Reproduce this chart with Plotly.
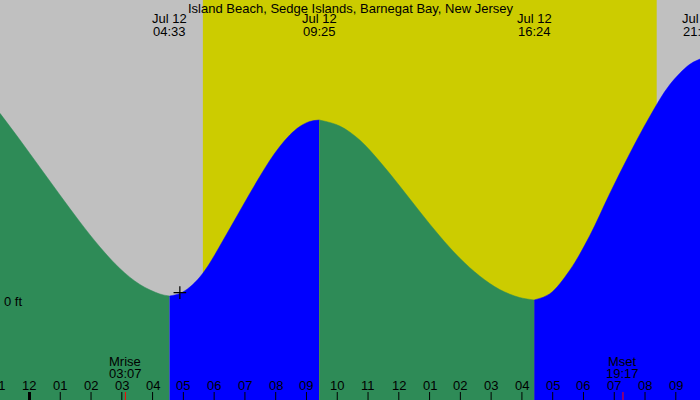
import plotly.graph_objects as go

TITLE = "Island Beach, Sedge Islands, Barnegat Bay, New Jersey"

# Tide curve: hours after Jul 12 00:00, height in ft
tide_hours = [-0.958, -0.308, 0.341, 0.990, 1.640, 2.289, 2.938, 3.588, 4.237, 4.55,
              4.886, 5.211, 5.536, 5.860, 6.185, 6.510, 6.834, 7.159, 7.484, 7.808,
              8.133, 8.458, 8.782, 9.107, 9.417,
              10.081, 10.731, 11.380, 12.029, 12.679, 13.328, 13.977, 14.627, 15.276, 15.925, 16.4,
              16.899, 17.549, 18.198, 18.847, 19.497, 20.146, 20.795, 21.445, 21.786]
tide_ft = [3.128, 2.683, 2.225, 1.767, 1.317, 0.900, 0.542, 0.275, 0.117, 0.083,
           0.125, 0.233, 0.400, 0.633, 0.917, 1.208, 1.500, 1.792, 2.075, 2.342,
           2.575, 2.767, 2.908, 2.992, 3.017,
           2.917, 2.683, 2.325, 1.917, 1.492, 1.083, 0.717, 0.417, 0.192, 0.058, 0.017,
           0.117, 0.508, 1.083, 1.783, 2.450, 3.067, 3.600, 3.942, 4.033]

# Tide events (low / high)
event_times = ["04:33", "09:25", "16:24", "21:47"]
event_date = "Jul 12"

# Sun and moon
sunrise = "05:38"
sunset = "20:23"
moon_labels = ["Mrise", "Mset"]
moon_times = ["03:07", "19:17"]

# Hour ticks
hour_ticks = list(range(-1, 22))
hour_text = ["11", "12", "01", "02", "03", "04", "05", "06", "07", "08", "09", "10",
             "11", "12", "01", "02", "03", "04", "05", "06", "07", "08", "09"]

# Marker
marker_hour = [4.886]
marker_ft = [0.14]

X_RANGE = [-0.958, 21.786]
Y_RANGE = [-1.65, 5.017]

GRAY = "#C0C0C0"
YELLOW = "#CCCC00"
GREEN = "#2E8B57"
BLUE = "#0000FF"
FONT = "Liberation Sans, Arial, sans-serif"
FS = 13


def hrs(s):
    h, m = s.split(":")
    return int(h) + int(m) / 60.0


def px(h):
    return (h - X_RANGE[0]) / (X_RANGE[1] - X_RANGE[0])


# curve extremes (split points between falling / rising segments)
extremes = [4.55, 9.417, 16.4]

fig = go.Figure()

bounds = [X_RANGE[0]] + extremes + [X_RANGE[1]]
for i in range(len(bounds) - 1):
    a, b = bounds[i], bounds[i + 1]
    idx = [j for j, t in enumerate(tide_hours) if a - 1e-9 <= t <= b + 1e-9]
    xs = [tide_hours[j] for j in idx]
    ys = [tide_ft[j] for j in idx]
    color = BLUE if i % 2 == 1 else GREEN
    fig.add_trace(go.Scatter(x=[a, b], y=[Y_RANGE[0], Y_RANGE[0]], mode="lines",
                             line=dict(width=0, color=color), hoverinfo="skip",
                             showlegend=False))
    fig.add_trace(go.Scatter(x=xs, y=ys, mode="lines", fill="tonexty",
                             fillcolor=color,
                             line=dict(width=0.5, color=color, shape="spline", smoothing=1),
                             hoverinfo="skip", showlegend=False))

fig.add_trace(go.Scatter(x=marker_hour, y=marker_ft, mode="markers",
                         marker=dict(symbol="cross-thin", size=9,
                                     line=dict(width=1.2, color="black")),
                         hoverinfo="skip", showlegend=False))

shapes = []
sr, ss = hrs(sunrise), hrs(sunset)
shapes.append(dict(type="rect", xref="x", yref="paper", x0=X_RANGE[0], x1=sr, y0=0, y1=1,
                   fillcolor=GRAY, line=dict(width=0), layer="below"))
shapes.append(dict(type="rect", xref="x", yref="paper", x0=sr, x1=ss, y0=0, y1=1,
                   fillcolor=YELLOW, line=dict(width=0), layer="below"))
shapes.append(dict(type="rect", xref="x", yref="paper", x0=ss, x1=X_RANGE[1], y0=0, y1=1,
                   fillcolor=GRAY, line=dict(width=0), layer="below"))


def label(xp, yp, text, xanchor="center"):
    return dict(x=xp, y=yp, xref="paper", yref="paper", text=text, showarrow=False,
                xanchor=xanchor, yanchor="middle",
                font=dict(family=FONT, size=FS, color="black"))


annotations = []
for h, t in zip(hour_ticks, hour_text):
    annotations.append(label(px(h), 1 - 385 / 400, t))
    if X_RANGE[0] <= h <= X_RANGE[1]:
        w = 3 if h == 0 else 1
        shapes.append(dict(type="line", xref="x", yref="paper", x0=h, x1=h, y0=0, y1=8 / 400,
                           line=dict(color="black", width=w), layer="above"))

for lab, t in zip(moon_labels, moon_times):
    h = hrs(t)
    shapes.append(dict(type="line", xref="x", yref="paper", x0=h, x1=h, y0=0, y1=8 / 400,
                       line=dict(color="red", width=1), layer="above"))
    annotations.append(label(px(h), 1 - 361 / 400, lab))
    annotations.append(label(px(h), 1 - 373 / 400, t))

for t in event_times:
    h = hrs(t)
    annotations.append(label(px(h), 1 - 19 / 400, event_date))
    annotations.append(label(px(h), 1 - 31 / 400, t))

annotations.append(label(0.5, 1 - 8 / 400, TITLE))
annotations.append(dict(x=0.003, y=0, xref="paper", yref="y", text="0 ft",
                        showarrow=False, xanchor="left", yanchor="middle",
                        font=dict(family=FONT, size=FS, color="black")))

fig.update_layout(
    width=700, height=400,
    margin=dict(l=0, r=0, t=0, b=0),
    paper_bgcolor=GRAY, plot_bgcolor=GRAY,
    xaxis=dict(range=X_RANGE, visible=False, fixedrange=True),
    yaxis=dict(range=Y_RANGE, visible=False, fixedrange=True),
    shapes=shapes, annotations=annotations,
    showlegend=False,
)

fig.write_html("out.html", config=dict(displayModeBar=False))
